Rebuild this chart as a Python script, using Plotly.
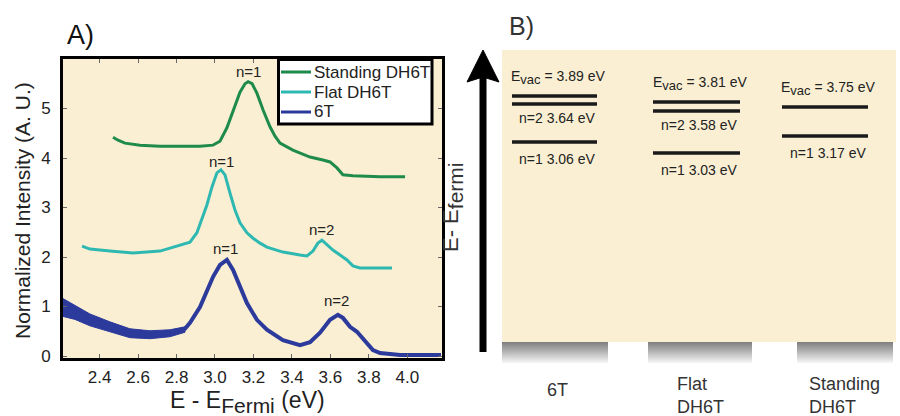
import plotly.graph_objects as go

# ---------------- Panel A data ----------------
std_E = [2.470, 2.496, 2.532, 2.610, 2.714, 2.818, 2.922, 2.990, 3.026, 3.062, 3.094, 3.130,
         3.156, 3.172, 3.193, 3.218, 3.250, 3.286, 3.312, 3.338, 3.405, 3.494, 3.561, 3.598,
         3.634, 3.665, 3.717, 3.858, 3.988]
std_I = [4.42, 4.36, 4.30, 4.26, 4.24, 4.24, 4.24, 4.26, 4.34, 4.61, 4.97, 5.33,
         5.50, 5.54, 5.50, 5.31, 4.97, 4.63, 4.44, 4.30, 4.16, 4.02, 3.96, 3.92,
         3.80, 3.66, 3.64, 3.62, 3.62]

flat_E = [2.309, 2.350, 2.454, 2.574, 2.714, 2.818, 2.870, 2.906, 2.938, 2.958, 2.984, 3.010,
          3.031, 3.052, 3.078, 3.104, 3.130, 3.166, 3.198, 3.234, 3.270, 3.353, 3.442, 3.478,
          3.509, 3.535, 3.556, 3.582, 3.613, 3.650, 3.686, 3.717, 3.754, 3.920]
flat_I = [2.22, 2.16, 2.12, 2.08, 2.12, 2.24, 2.30, 2.49, 2.85, 3.05, 3.41, 3.70,
          3.76, 3.66, 3.29, 2.95, 2.69, 2.49, 2.38, 2.28, 2.20, 2.10, 2.04, 2.02,
          2.12, 2.28, 2.34, 2.24, 2.14, 2.04, 1.94, 1.82, 1.78, 1.78]

t6_E = [2.210, 2.272, 2.350, 2.454, 2.558, 2.662, 2.766, 2.844, 2.870, 2.922, 2.958, 2.990,
        3.026, 3.062, 3.094, 3.130, 3.166, 3.218, 3.270, 3.353, 3.442, 3.494, 3.546, 3.598,
        3.639, 3.665, 3.702, 3.738, 3.764, 3.790, 3.821, 3.858, 3.962, 4.175]
t6_I = [0.98, 0.88, 0.73, 0.59, 0.46, 0.43, 0.46, 0.55, 0.67, 0.99, 1.33, 1.60,
        1.84, 1.94, 1.74, 1.39, 1.07, 0.73, 0.53, 0.32, 0.22, 0.28, 0.47, 0.73,
        0.83, 0.77, 0.59, 0.49, 0.38, 0.26, 0.12, 0.06, 0.02, 0.02]
# noise envelope of the 6T spectrum at low energy
t6_env_E = [2.210, 2.272, 2.350, 2.454, 2.558, 2.662, 2.766, 2.844]
t6_env_hi = [1.16, 1.02, 0.85, 0.69, 0.55, 0.51, 0.53, 0.59]
t6_env_lo = [0.80, 0.74, 0.61, 0.49, 0.37, 0.35, 0.39, 0.48]

x_ticks = [2.4, 2.6, 2.8, 3.0, 3.2, 3.4, 3.6, 3.8, 4.0]
y_ticks = [0, 1, 2, 3, 4, 5]

peak_labels = ["n=1", "n=1", "n=1", "n=2", "n=2"]
peak_E = [3.172, 3.036, 3.057, 3.556, 3.634]
peak_I = [5.74, 3.93, 2.18, 2.55, 1.13]

series_names = ["Standing DH6T", "Flat DH6T", "6T"]

# ---------------- Panel B data ----------------
groups = ["6T", "Flat DH6T", "Standing DH6T"]
group_labels = ["6T", "Flat<br>DH6T", "Standing<br>DH6T"]
e_vac = [3.89, 3.81, 3.75]
e_n2 = [3.64, 3.58, None]
e_n1 = [3.06, 3.03, 3.17]
# schematic drawing heights of the levels (diagram units above substrate)
h_vac = [246, 240, 235]
h_n2 = [238, 231, None]
h_n1 = [200, 189, 206]

# ---------------- style / layout constants ----------------
W, H = 900, 416
FONT = "Liberation Sans, Arial, sans-serif"
BEIGE = "#FAEFD3"
C_STD, C_FLAT, C_6T = "#1E8B4C", "#2EB8B2", "#2C3A9C"
series_colors = [C_STD, C_FLAT, C_6T]

def px(x):
    return x / W

def py(y):
    return 1 - y / H

def sub(t, size):
    return f'<sub><span style="font-size:{size}px">{t}</span></sub>'

level_span = [(10, 95), (151, 238), (280, 366)]
bar_span = [(0, 106), (146, 250), (295, 391)]
bar_depth = 21

fig = go.Figure()

# panel A spectra
fig.add_trace(go.Scatter(x=std_E, y=std_I, mode="lines", name=series_names[0],
                         line=dict(color=C_STD, width=3), xaxis="x", yaxis="y", showlegend=False))
fig.add_trace(go.Scatter(x=flat_E, y=flat_I, mode="lines", name=series_names[1],
                         line=dict(color=C_FLAT, width=3), xaxis="x", yaxis="y", showlegend=False))
fig.add_trace(go.Scatter(x=t6_env_E + t6_env_E[::-1], y=t6_env_hi + t6_env_lo[::-1],
                         fill="toself", fillcolor=C_6T, mode="lines",
                         line=dict(color=C_6T, width=1), showlegend=False,
                         hoverinfo="skip", xaxis="x", yaxis="y"))
fig.add_trace(go.Scatter(x=t6_E, y=t6_I, mode="lines", name=series_names[2],
                         line=dict(color=C_6T, width=4), xaxis="x", yaxis="y", showlegend=False))

for lab, e, i in zip(peak_labels, peak_E, peak_I):
    fig.add_annotation(x=e, y=i, xref="x", yref="y", text=lab, showarrow=False,
                       font=dict(size=15, color="#222", family=FONT))

# panel B: substrate bars with vertical gradient
for (b0, b1) in bar_span:
    fig.add_trace(go.Scatter(x=[b0, b1, b1, b0, b0], y=[0, 0, -bar_depth, -bar_depth, 0],
                             fill="toself", mode="lines", line=dict(width=0),
                             fillgradient=dict(type="vertical",
                                               colorscale=[[0, "#f7f7f7"], [0.5, "#b9b9b9"], [1, "#7e7e7e"]]),
                             showlegend=False, hoverinfo="skip", xaxis="x2", yaxis="y2"))

# panel B: energy levels
for k, g in enumerate(groups):
    x0, x1 = level_span[k]
    xc = (x0 + x1) / 2 + 3
    for hh in (h_vac[k], h_n2[k], h_n1[k]):
        if hh is None:
            continue
        fig.add_trace(go.Scatter(x=[x0, x1], y=[hh, hh], mode="lines",
                                 line=dict(color="#1a1a1a", width=3.5),
                                 showlegend=False, hoverinfo="skip", xaxis="x2", yaxis="y2"))
    fig.add_annotation(x=xc, y=h_vac[k] + 19, xref="x2", yref="y2",
                       text=f"E{sub('vac', 13)} = {e_vac[k]:.2f} eV", showarrow=False,
                       font=dict(size=14, color="#222", family=FONT))
    if h_n2[k] is not None:
        fig.add_annotation(x=xc, y=h_n2[k] - 14, xref="x2", yref="y2",
                           text=f"n=2 {e_n2[k]:.2f} eV", showarrow=False,
                           font=dict(size=14, color="#222", family=FONT))
    fig.add_annotation(x=xc, y=h_n1[k] - 17, xref="x2", yref="y2",
                       text=f"n=1 {e_n1[k]:.2f} eV", showarrow=False,
                       font=dict(size=14, color="#222", family=FONT))

# substrate labels
lab_x = [557, 675, 807]
lab_y = [378, 372, 372]
lab_anchor = ["center", "left", "left"]
for k, t in enumerate(group_labels):
    fig.add_annotation(x=px(lab_x[k]), y=py(lab_y[k]), xref="paper", yref="paper", text=t,
                       showarrow=False, xanchor=lab_anchor[k], yanchor="top", align="left",
                       font=dict(size=18, color="#333", family=FONT))

shapes = [
    # beige backgrounds
    dict(type="rect", xref="x domain", yref="y domain", x0=0, x1=1, y0=0, y1=1,
         fillcolor=BEIGE, line=dict(width=0), layer="below"),
    dict(type="rect", xref="x2 domain", yref="y2", x0=0, x1=1, y0=0, y1=292,
         fillcolor=BEIGE, line=dict(width=0), layer="below"),
    # energy arrow
    dict(type="line", xref="paper", yref="paper", x0=px(483), x1=px(483), y0=py(352), y1=py(76),
         line=dict(color="black", width=7)),
    dict(type="path", xref="paper", yref="paper",
         path=f"M {px(467)} {py(82)} L {px(483)} {py(50)} L {px(499)} {py(82)} L {px(483)} {py(77)} Z",
         fillcolor="black", line=dict(color="black", width=1)),
    # legend box
    dict(type="rect", xref="paper", yref="paper", x0=px(278.5), x1=px(432), y0=py(124), y1=py(59.5),
         fillcolor="white", line=dict(color="black", width=3)),
]
# legend samples + texts
leg_rows = [72, 92, 112]
for name, col, ry in zip(series_names, series_colors, leg_rows):
    shapes.append(dict(type="line", xref="paper", yref="paper", x0=px(281), x1=px(311),
                       y0=py(ry), y1=py(ry), line=dict(color=col, width=3)))
    fig.add_annotation(x=px(312), y=py(ry), xref="paper", yref="paper", text=name,
                       showarrow=False, xanchor="left", yanchor="middle",
                       font=dict(size=17, color="#222", family=FONT))

fig.add_annotation(x=px(80), y=py(35), xref="paper", yref="paper", text="A)", showarrow=False,
                   xanchor="center", yanchor="middle",
                   font=dict(size=27, color="#111", family=FONT))
fig.add_annotation(x=px(521), y=py(26), xref="paper", yref="paper", text="B)", showarrow=False,
                   xanchor="center", yanchor="middle",
                   font=dict(size=25, color="#333", family=FONT))
fig.add_annotation(x=px(22), y=py(211), xref="paper", yref="paper",
                   text="Normalized Intensity (A. U.)", textangle=-90, showarrow=False,
                   xanchor="center", yanchor="middle",
                   font=dict(size=21, color="#222", family=FONT))
fig.add_annotation(x=px(247), y=py(402), xref="paper", yref="paper",
                   text=f"E - E{sub('Fermi', 21)} (eV)", showarrow=False,
                   xanchor="center", yanchor="middle",
                   font=dict(size=23, color="#222", family=FONT))
fig.add_annotation(x=px(452), y=py(208), xref="paper", yref="paper",
                   text=f"E- E{sub('fermi', 21)}", textangle=-90, showarrow=False,
                   xanchor="center", yanchor="middle",
                   font=dict(size=22, color="#333", family=FONT))

axis_common = dict(showgrid=False, zeroline=False)
fig.update_layout(
    width=W, height=H, margin=dict(l=0, r=0, t=0, b=0),
    paper_bgcolor="white", plot_bgcolor="rgba(0,0,0,0)",
    font=dict(family=FONT, color="#222"),
    shapes=shapes, showlegend=False,
    xaxis=dict(domain=[px(63), px(442)], range=[2.21, 4.18], tickvals=x_ticks,
               ticktext=[f"{v:.1f}" for v in x_ticks], ticks="inside", ticklen=4,
               tickcolor="#666", showline=True, linewidth=3, linecolor="black", mirror="ticks",
               tickfont=dict(size=17, color="#222"), automargin=False, anchor="y",
               ticklabelstandoff=2, **axis_common),
    yaxis=dict(domain=[py(358), py(59)], range=[-0.04, 6.0], tickvals=y_ticks, ticks="inside",
               ticklen=4, tickcolor="#666", showline=True, linewidth=3, linecolor="black",
               mirror="ticks", tickfont=dict(size=17, color="#222"), automargin=False,
               anchor="x", ticklabelstandoff=6, **axis_common),
    xaxis2=dict(domain=[px(502), px(896)], range=[0, 394], visible=False, anchor="y2",
                **axis_common),
    yaxis2=dict(domain=[py(363), py(50)], range=[-bar_depth, 292], visible=False, anchor="x2",
                **axis_common),
)

fig.write_html("out.html")
